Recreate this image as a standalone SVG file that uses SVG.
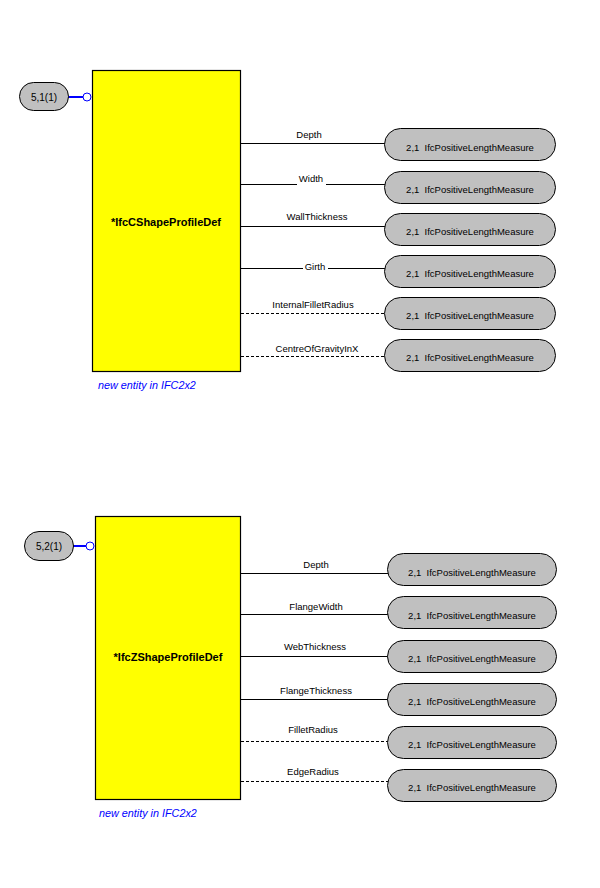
<svg xmlns="http://www.w3.org/2000/svg" width="600" height="888" viewBox="0 0 600 888">
<style>
.ent{fill:#ffff00;stroke:#000;stroke-width:1.2}
.ov{fill:#c0c0c0;stroke:#000;stroke-width:1}
.t{font-family:"Liberation Sans",Arial,sans-serif;font-size:9.5px;fill:#000;text-anchor:middle}
.tr{font-family:"Liberation Sans",Arial,sans-serif;font-size:10px;fill:#000;text-anchor:middle}
.tb{font-family:"Liberation Sans",Arial,sans-serif;font-size:11px;font-weight:bold;fill:#000;text-anchor:middle}
.note{font-family:"Liberation Sans",Arial,sans-serif;font-size:10.8px;font-style:italic;fill:#0000ff}
.ln{stroke:#000;stroke-width:1;fill:none}
.dl{stroke:#000;stroke-width:1;fill:none;stroke-dasharray:3,2}
.bl{stroke:#0000ff;stroke-width:2;fill:none}
.bc{stroke:#0000ff;stroke-width:1;fill:#fff}
</style>
<rect width="600" height="888" fill="#fff"/>
<g id="connectors">
<line class="bl" x1="68" y1="97" x2="83" y2="97"/>
<circle class="bc" cx="87" cy="97" r="4"/>
<line class="ln" x1="241" y1="143.5" x2="385" y2="143.5"/>
<line class="ln" x1="241" y1="184.5" x2="297" y2="184.5"/>
<line class="ln" x1="326" y1="184.5" x2="385" y2="184.5"/>
<line class="ln" x1="241" y1="226.5" x2="385" y2="226.5"/>
<line class="ln" x1="241" y1="268.5" x2="303" y2="268.5"/>
<line class="ln" x1="328" y1="268.5" x2="385" y2="268.5"/>
<line class="dl" x1="241" y1="313.5" x2="385" y2="313.5"/>
<line class="dl" x1="241" y1="356.5" x2="385" y2="356.5"/>
<text class="t" x="309" y="138">Depth</text>
<text class="t" x="311" y="182">Width</text>
<text class="t" x="317" y="220">WallThickness</text>
<text class="t" x="315" y="270">Girth</text>
<text class="t" x="313" y="308">InternalFilletRadius</text>
<text class="t" x="317" y="352">CentreOfGravityInX</text>
<line class="bl" x1="73" y1="546" x2="86" y2="546"/>
<circle class="bc" cx="90" cy="546" r="4"/>
<line class="ln" x1="241" y1="573.5" x2="388" y2="573.5"/>
<line class="ln" x1="241" y1="614.5" x2="388" y2="614.5"/>
<line class="ln" x1="241" y1="656.5" x2="388" y2="656.5"/>
<line class="ln" x1="241" y1="699.5" x2="388" y2="699.5"/>
<line class="dl" x1="241" y1="741.5" x2="388" y2="741.5"/>
<line class="dl" x1="241" y1="781.5" x2="388" y2="781.5"/>
<text class="t" x="316" y="568">Depth</text>
<text class="t" x="316" y="610">FlangeWidth</text>
<text class="t" x="315" y="650">WebThickness</text>
<text class="t" x="316" y="694">FlangeThickness</text>
<text class="t" x="313" y="733">FilletRadius</text>
<text class="t" x="313" y="775">EdgeRadius</text>
</g>
<g id="ifcc">
<rect class="ent" x="92.5" y="70.5" width="148" height="301"/>
<text class="tb" x="166" y="226">*IfcCShapeProfileDef</text>
<text class="note" x="98" y="389">new entity in IFC2x2</text>
</g>
<g id="ref51">
<rect class="ov" x="19.5" y="82.5" width="49" height="28" rx="14"/>
<text class="tr" x="44" y="101">5,1(1)</text>
</g>
<g id="c1"><rect class="ov" x="384.5" y="128.5" width="171" height="32" rx="16"/><text class="t" x="470" y="151">2,1&#160; IfcPositiveLengthMeasure</text></g>
<g id="c2"><rect class="ov" x="384.5" y="171.5" width="171" height="32" rx="16"/><text class="t" x="470" y="193">2,1&#160; IfcPositiveLengthMeasure</text></g>
<g id="c3"><rect class="ov" x="384.5" y="213.5" width="171" height="32" rx="16"/><text class="t" x="470" y="235">2,1&#160; IfcPositiveLengthMeasure</text></g>
<g id="c4"><rect class="ov" x="384.5" y="255.5" width="171" height="32" rx="16"/><text class="t" x="470" y="277">2,1&#160; IfcPositiveLengthMeasure</text></g>
<g id="c5"><rect class="ov" x="384.5" y="297.5" width="171" height="32" rx="16"/><text class="t" x="470" y="319">2,1&#160; IfcPositiveLengthMeasure</text></g>
<g id="c6"><rect class="ov" x="384.5" y="339.5" width="171" height="32" rx="16"/><text class="t" x="470" y="361">2,1&#160; IfcPositiveLengthMeasure</text></g>
<g id="ifcz">
<rect class="ent" x="95.5" y="516.5" width="145" height="283"/>
<text class="tb" x="168" y="661">*IfcZShapeProfileDef</text>
<text class="note" x="99" y="817">new entity in IFC2x2</text>
</g>
<g id="ref52">
<rect class="ov" x="24.5" y="531.5" width="49" height="29" rx="14.5"/>
<text class="tr" x="49" y="550">5,2(1)</text>
</g>
<g id="z1"><rect class="ov" x="387.5" y="553.5" width="169" height="32" rx="16"/><text class="t" x="472" y="576">2,1&#160; IfcPositiveLengthMeasure</text></g>
<g id="z2"><rect class="ov" x="387.5" y="596.5" width="169" height="32" rx="16"/><text class="t" x="472" y="619">2,1&#160; IfcPositiveLengthMeasure</text></g>
<g id="z3"><rect class="ov" x="387.5" y="640.5" width="169" height="32" rx="16"/><text class="t" x="472" y="662">2,1&#160; IfcPositiveLengthMeasure</text></g>
<g id="z4"><rect class="ov" x="387.5" y="683.5" width="169" height="32" rx="16"/><text class="t" x="472" y="705">2,1&#160; IfcPositiveLengthMeasure</text></g>
<g id="z5"><rect class="ov" x="387.5" y="726.5" width="169" height="32" rx="16"/><text class="t" x="472" y="748">2,1&#160; IfcPositiveLengthMeasure</text></g>
<g id="z6"><rect class="ov" x="387.5" y="769.5" width="169" height="32" rx="16"/><text class="t" x="472" y="791">2,1&#160; IfcPositiveLengthMeasure</text></g>
</svg>
